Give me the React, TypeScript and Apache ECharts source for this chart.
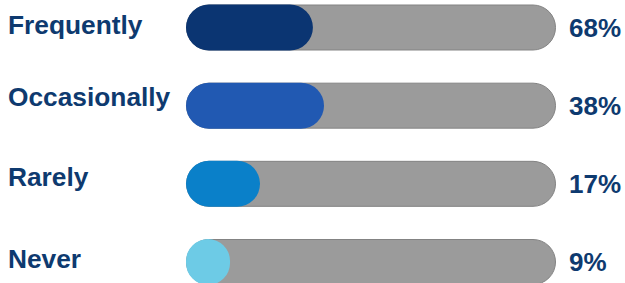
import React, { useEffect, useRef } from "react";
import * as echarts from "echarts";

// Categories (top to bottom)
const categories = ["Frequently", "Occasionally", "Rarely", "Never"];
// Percent labels shown at the right of each track
const percentLabels = [68, 38, 17, 9];
// Visible fill length of each coloured bar (track = 100)
const fillLengths = [34.3, 37.3, 20, 11.9];
// Full track length
const trackMax = 100;
const fillColors = ["#0b3572", "#2159b2", "#0a80c9", "#6dcbe6"];
// upward shift (px) of each left label relative to its track centre
const labelLift = [3, 9, 7, 3];

export default function App() {
  const ref = useRef<HTMLDivElement>(null);
  useEffect(() => {
    if (!ref.current) return;
    const chart = echarts.init(ref.current, null, { renderer: "svg" });
    const textColor = "#0e3a6f";
    const font = "'Liberation Sans', Arial, sans-serif";
    const rich: Record<string, any> = {
      t: {
        color: textColor,
        fontFamily: font,
        fontWeight: "bold",
        fontSize: 26.3,
        lineHeight: 30,
        align: "left",
      },
    };
    labelLift.forEach((l, i) => {
      rich["s" + i] = { lineHeight: l * 2, fontSize: 1, height: l * 2 };
    });
    chart.setOption({
      animation: false,
      grid: { left: 186, width: 370, top: 27.5, height: 234.5, outerBoundsMode: "none" },
      xAxis: { type: "value", min: 0, max: trackMax, show: false },
      yAxis: {
        type: "category",
        data: categories,
        inverse: true,
        boundaryGap: false,
        axisLine: { show: false },
        axisTick: { show: false },
        splitLine: { show: false },
        axisLabel: {
          align: "left",
          margin: 178,
          formatter: (v: string, i: number) => `{t|${v}}\n{s${i}| }`,
          rich,
        },
      },
      series: [
        {
          type: "bar",
          barWidth: 46,
          barGap: "-100%",
          silent: true,
          clip: false,
          data: categories.map(() => trackMax),
          itemStyle: {
            color: "#9b9b9b",
            borderColor: "#838383",
            borderWidth: 1,
            borderRadius: 23,
          },
          label: {
            show: true,
            position: "right",
            distance: 13,
            color: textColor,
            fontFamily: font,
            fontWeight: "bold",
            fontSize: 26,
            formatter: (p: any) => percentLabels[p.dataIndex] + "%",
          },
          z: 1,
        },
        {
          type: "bar",
          barWidth: 46,
          barGap: "-100%",
          silent: true,
          clip: false,
          data: fillLengths.map((v, i) => ({
            value: v,
            itemStyle: { color: fillColors[i] },
          })),
          itemStyle: { borderRadius: 23 },
          z: 2,
        },
      ],
    });
    return () => chart.dispose();
  }, []);
  return (
    <div
      ref={ref}
      style={{ position: "fixed", left: 0, top: 0, width: 625, height: 283, background: "#fff" }}
    />
  );
}
